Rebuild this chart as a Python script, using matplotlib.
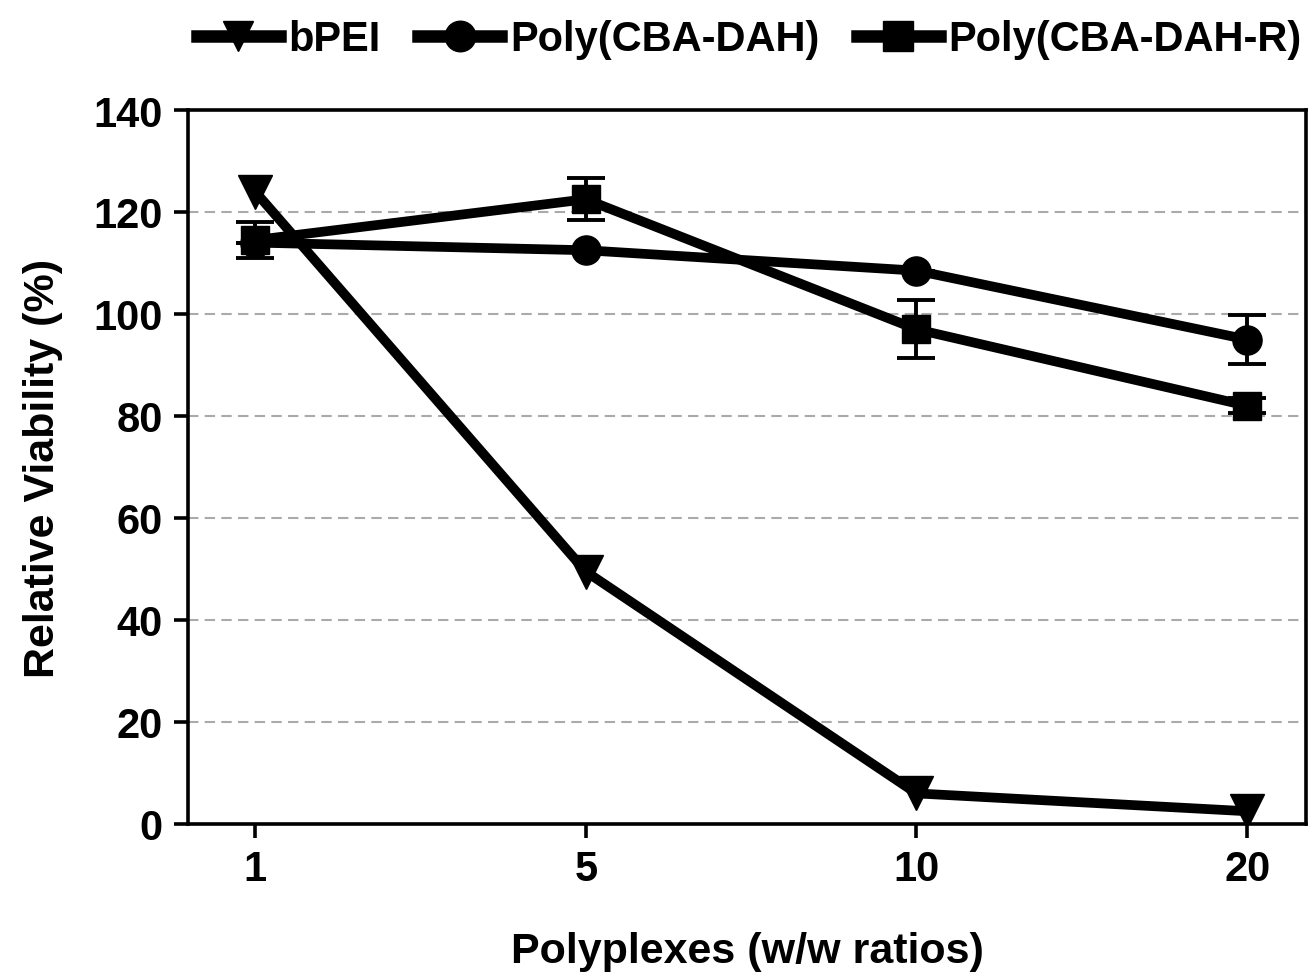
import matplotlib
matplotlib.use("Agg")
import matplotlib.pyplot as plt
from matplotlib.lines import Line2D
import numpy as np

plt.rcParams['font.family'] = ['Liberation Sans', 'DejaVu Sans']
plt.rcParams['font.weight'] = 'bold'

categories = ["1", "5", "10", "20"]
bpei = [124, 49.5, 6, 2.5]
cba_dah = [114, 112.5, 108.5, 95]
cba_dah_err = [0, 0, 0, 4.8]
cba_dah_r = [114.5, 122.5, 97, 82]
cba_dah_r_err = [3.5, 4.1, 5.7, 1.5]
labels = ['bPEI', 'Poly(CBA-DAH)', 'Poly(CBA-DAH-R)']
markers = ['v', 'o', 's']

fig = plt.figure(figsize=(13.12, 9.78), dpi=100)
ax = fig.add_axes([188/1312, 1-825/978, (1306-188)/1312, (825-111)/978])

x = np.arange(len(categories))
lw = 7
ax.errorbar(x, bpei, color='black', lw=lw, marker='v', ms=25, zorder=3)
ax.errorbar(x, cba_dah, yerr=cba_dah_err, color='black', lw=lw, marker='o', ms=21,
            elinewidth=2.8, capsize=14, capthick=2.8, zorder=4)
ax.errorbar(x, cba_dah_r, yerr=cba_dah_r_err, color='black', lw=lw, marker='s', ms=20,
            elinewidth=2.8, capsize=14, capthick=2.8, zorder=5)

ax.set_xlim(-0.203, 3.178)
ax.set_ylim(0, 140)
ax.set_xticks(x)
ax.set_xticklabels(categories)
ax.set_yticks(np.arange(0, 141, 20))
for v in range(20, 140, 20):
    ax.axhline(v, color='#aaaaaa', lw=1.5, ls=(0, (5, 3)), zorder=1)

for s in ax.spines.values():
    s.set_linewidth(2.6)
ax.tick_params(axis='both', direction='out', width=2.6, length=10, labelsize=30, pad=8)
for lab in ax.get_xticklabels() + ax.get_yticklabels():
    lab.set_fontweight('bold')

ax.set_ylabel('Relative Viability (%)', fontsize=31, fontweight='bold', labelpad=22)
ax.set_xlabel('Polyplexes (w/w ratios)', fontsize=31, fontweight='bold', labelpad=30)

handles = [Line2D([], [], color='black', lw=9, marker=m, ms=22) for m in markers]
fig.legend(handles, labels, loc='center', bbox_to_anchor=(0.571, 0.959), ncol=3, frameon=False,
           handlelength=2.0, columnspacing=0.9, handletextpad=0.2,
           prop={'weight': 'bold', 'size': 30})

fig.savefig('out.png', dpi=100)
